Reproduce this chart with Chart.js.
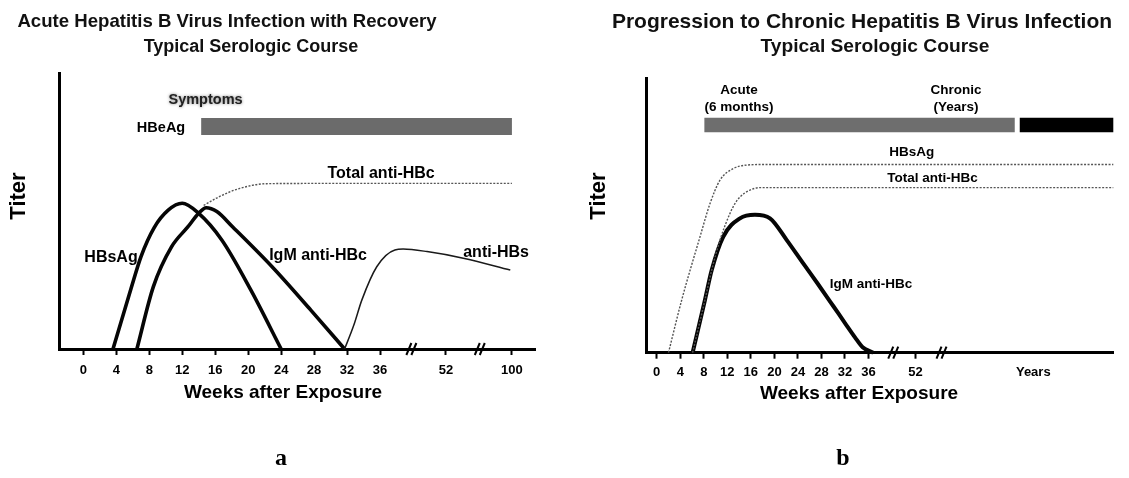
<!DOCTYPE html>
<html><head><meta charset="utf-8">
<script src="https://cdn.jsdelivr.net/npm/chart.js@4.4.1/dist/chart.umd.min.js"></script>
<style>
html,body{margin:0;padding:0;background:#fff;}
#wrap{position:relative;width:1129px;height:478px;overflow:hidden;background:#fff;}
canvas{position:absolute;top:0;}
</style></head><body>
<div id="wrap">
<canvas id="ca" width="560" height="478" style="left:0px"></canvas>
<canvas id="cb" width="569" height="478" style="left:560px"></canvas>
</div>
<script>
// ===== Panel a: Acute HBV infection with recovery =====
const tickPosA = [0,4,8,12,16,20,24,28,32,36,44,52];
const tickLabelsA = ['0','4','8','12','16','20','24','28','32','36','52','100'];
const breaksA = [39.8, 48.1];
const hbsAgA = [[3.6,0],[5.8,22],[7,33.5],[8.6,44],[10.3,50.3],[12,52.8],[13.9,49.4],[16.8,39.5],[20.3,21.5],[24,0]];
const igmA = [[6.5,0],[8.5,22.6],[10.7,37],[12.7,44.3],[14,49.2],[14.9,51.2],[16.2,49.8],[18.1,44.3],[22.9,29.8],[27.6,14.1],[31.7,0]];
const totalAntiHBcA = [[14.6,52],[16.5,55.2],[19,58.2],[22.3,59.9],[30,60],[52,60]];
const antiHBsA = [[31.7,0],[32.8,8.5],[33.8,17.8],[35.6,29.8],[37.8,35.9],[38.8,36.2],[41.7,35.3],[46.1,32.9],[51.8,28.6]];
const hbeAgBarA = [[14.3,80.6],[52,80.6]];

// ===== Panel b: Progression to chronic HBV infection =====
const tickPosB = [0,4,8,12,16,20,24,28,32,36,44,64];
const tickLabelsB = ['0','4','8','12','16','20','24','28','32','36','52','Years'];
const breaksB = [40.2, 48.4];
const hbsAgB = [[2,0],[4.25,19.2],[7.36,42.2],[9.06,54.3],[10.75,62.8],[13,67],[15.3,68.3],[18,68.5],[77.6,68.5]];
const totalAntiHBcB = [[6.1,0],[8.2,19.2],[9.35,30.1],[10.75,41],[12.45,50.7],[13.3,54.3],[14.15,56.7],[15.85,59.2],[17.55,60.1],[77.6,60.1]];
const igmB = [[6.1,0],[8.2,19.2],[9.35,30.1],[11.3,42.2],[14.15,48.9],[16.7,50.2],[19.25,48.9],[22.1,41],[24.9,32.5],[27.4,25],[30,17],[32,10.8],[33.7,5.6],[35,2],[36.8,0]];
const acuteBarB = [[8.1,82.9],[60.85,82.9]];
const chronicBarB = [[61.7,82.9],[77.6,82.9]];

const FONT = "'Liberation Sans', Arial, Helvetica, sans-serif";
const SERIF = "'Liberation Serif', 'Times New Roman', serif";
const pts = arr => arr.map(p => ({x:p[0], y:p[1]}));

function thick(label, data, w){ return {label, data:pts(data), borderColor:'#050505', borderWidth:w, pointRadius:0, fill:false, cubicInterpolationMode:'monotone', clip:false}; }
function thin(label, data, color, dash, w){ return {label, data:pts(data), borderColor:color, borderWidth:w, borderDash:dash, pointRadius:0, fill:false, cubicInterpolationMode:'monotone', clip:false}; }
function bar(label, data, color, w){ return {label, data:pts(data), borderColor:color, borderWidth:w, borderCapStyle:'butt', pointRadius:0, fill:false, tension:0, clip:false}; }

function annotPlugin(cfg){
  return {
    id:'annot',
    afterDraw(chart){
      const ctx = chart.ctx, xs = chart.scales.x, ys = chart.scales.y;
      ctx.save();
      ctx.textAlign = 'center'; ctx.textBaseline = 'middle';
      // titles (pixel positions within the canvas)
      ctx.fillStyle = '#111';
      cfg.titles.forEach(t => { ctx.font = `bold ${t.size}px ${FONT}`; ctx.fillText(t.text, t.px, t.py); });
      // x-axis title
      ctx.fillStyle = '#000';
      ctx.font = `bold ${cfg.xTitle.size}px ${FONT}`;
      ctx.fillText(cfg.xTitle.text, cfg.xTitle.px, cfg.xTitle.py);
      // y-axis title
      ctx.save();
      ctx.translate(cfg.yTitle.px, cfg.yTitle.py); ctx.rotate(-Math.PI/2);
      ctx.fillStyle = '#000'; ctx.font = `bold ${cfg.yTitle.size}px ${FONT}`;
      ctx.fillText(cfg.yTitle.text, 0, 0);
      ctx.restore();
      // panel letter
      ctx.fillStyle = '#000';
      ctx.font = `bold ${cfg.letter.size}px ${SERIF}`;
      ctx.fillText(cfg.letter.text, cfg.letter.px, cfg.letter.py);
      // series labels (data positions)
      cfg.labels.forEach(t => {
        ctx.font = `bold ${t.size}px ${FONT}`;
        ctx.fillStyle = t.color || '#000';
        if (t.halo){ ctx.shadowColor = 'rgba(90,90,90,0.8)'; ctx.shadowBlur = 3; }
        ctx.fillText(t.text, xs.getPixelForValue(t.x), ys.getPixelForValue(t.y));
        ctx.shadowBlur = 0; ctx.shadowColor = 'transparent';
      });
      // axis breaks
      const y0 = ys.getPixelForValue(0);
      ctx.strokeStyle = '#000'; ctx.lineWidth = 2;
      cfg.breaks.forEach(b => {
        const px = xs.getPixelForValue(b);
        [-2.5, 2.5].forEach(d => {
          ctx.beginPath(); ctx.moveTo(px + d - 2.5, y0 + 6); ctx.lineTo(px + d + 2.5, y0 - 6); ctx.stroke();
        });
      });
      ctx.restore();
    }
  };
}

function makeChart(id, o){
  return new Chart(document.getElementById(id), {
    type:'line',
    data:{ datasets:o.datasets },
    options:{
      responsive:false, animation:false, devicePixelRatio:1,
      layout:{ padding:o.padding },
      plugins:{ legend:{display:false}, tooltip:{enabled:false}, title:{display:false} },
      scales:{
        x:{
          type:'linear', min:o.xmin, max:o.xmax,
          afterBuildTicks: s => { s.ticks = o.tickPos.map(v => ({value:v})); },
          ticks:{ autoSkip:false, maxRotation:0, minRotation:0, padding:o.tickPad, color:'#000',
                  font:{family:FONT, size:13, weight:'bold'},
                  callback:(v,i) => o.tickLabels[i] },
          grid:{ display:true, drawOnChartArea:false, drawTicks:true, tickLength:6, tickWidth:2,
                 tickColor: c => (o.tickLabels[c.index] === 'Years' ? 'rgba(0,0,0,0)' : '#000') },
          border:{ display:true, width:3, color:'#000' },
          title:{ display:false }
        },
        y:{
          type:'linear', min:0, max:100,
          ticks:{ display:false }, grid:{ display:false, drawTicks:false },
          border:{ display:true, width:3, color:'#000' },
          title:{ display:false }
        }
      }
    },
    plugins:[annotPlugin(o.annot)]
  });
}

makeChart('ca', {
  xmin:-2.95, xmax:54.8, tickPos:tickPosA, tickLabels:tickLabelsA, tickPad:8,
  padding:{top:73, bottom:91.4, left:59, right:25},
  datasets:[
    bar('HBeAg', hbeAgBarA, '#6b6b6b', 17),
    thin('Total anti-HBc', totalAntiHBcA, '#555', [2,1.5], 1.4),
    thin('anti-HBs', antiHBsA, '#1a1a1a', [], 1.5),
    thick('IgM anti-HBc', igmA, 3.6),
    thick('HBsAg', hbsAgA, 3.6)
  ],
  annot:{
    titles:[
      {text:'Acute Hepatitis B Virus Infection with Recovery', px:227, py:22, size:18.6},
      {text:'Typical Serologic Course', px:251, py:47, size:18}
    ],
    xTitle:{text:'Weeks after Exposure', px:283, py:393, size:19},
    yTitle:{text:'Titer', px:19, py:196, size:22},
    letter:{text:'a', px:281, py:459, size:24},
    labels:[
      {text:'Symptoms', x:14.83, y:90.2, size:14.5, color:'#222', halo:true},
      {text:'HBeAg', x:9.43, y:80.1, size:14.5},
      {text:'Total anti-HBc', x:36.13, y:63.4, size:16},
      {text:'HBsAg', x:3.36, y:33.2, size:16},
      {text:'IgM anti-HBc', x:28.48, y:33.7, size:16},
      {text:'anti-HBs', x:50.08, y:35.1, size:16}
    ],
    breaks:breaksA
  }
});

makeChart('cb', {
  xmin:-1.82, xmax:77.6, tickPos:tickPosB, tickLabels:tickLabelsB, tickPad:6,
  padding:{top:78, bottom:91.7, left:86, right:15.7},
  datasets:[
    bar('Acute', acuteBarB, '#6e6e6e', 14.5),
    bar('Chronic', chronicBarB, '#000', 14.5),
    thin('HBsAg', hbsAgB, '#555', [2,1.5], 1.4),
    thin('Total anti-HBc', totalAntiHBcB, '#555', [2,1.5], 1.4),
    thick('IgM anti-HBc', igmB, 4)
  ],
  annot:{
    titles:[
      {text:'Progression to Chronic Hepatitis B Virus Infection', px:302, py:22, size:21},
      {text:'Typical Serologic Course', px:315, py:47, size:19.2}
    ],
    xTitle:{text:'Weeks after Exposure', px:299, py:394, size:19},
    yTitle:{text:'Titer', px:39, py:196, size:22},
    letter:{text:'b', px:283, py:459, size:24},
    labels:[
      {text:'Acute', x:13.98, y:95.5, size:13.5},
      {text:'(6 months)', x:13.98, y:89.5, size:13.5},
      {text:'Chronic', x:50.86, y:95.5, size:13.5},
      {text:'(Years)', x:50.86, y:89.5, size:13.5},
      {text:'HBsAg', x:43.33, y:73.1, size:13.5},
      {text:'Total anti-HBc', x:46.86, y:63.6, size:13.5},
      {text:'IgM anti-HBc', x:36.41, y:25.0, size:13.5}
    ],
    breaks:breaksB
  }
});
</script>
</body></html>
